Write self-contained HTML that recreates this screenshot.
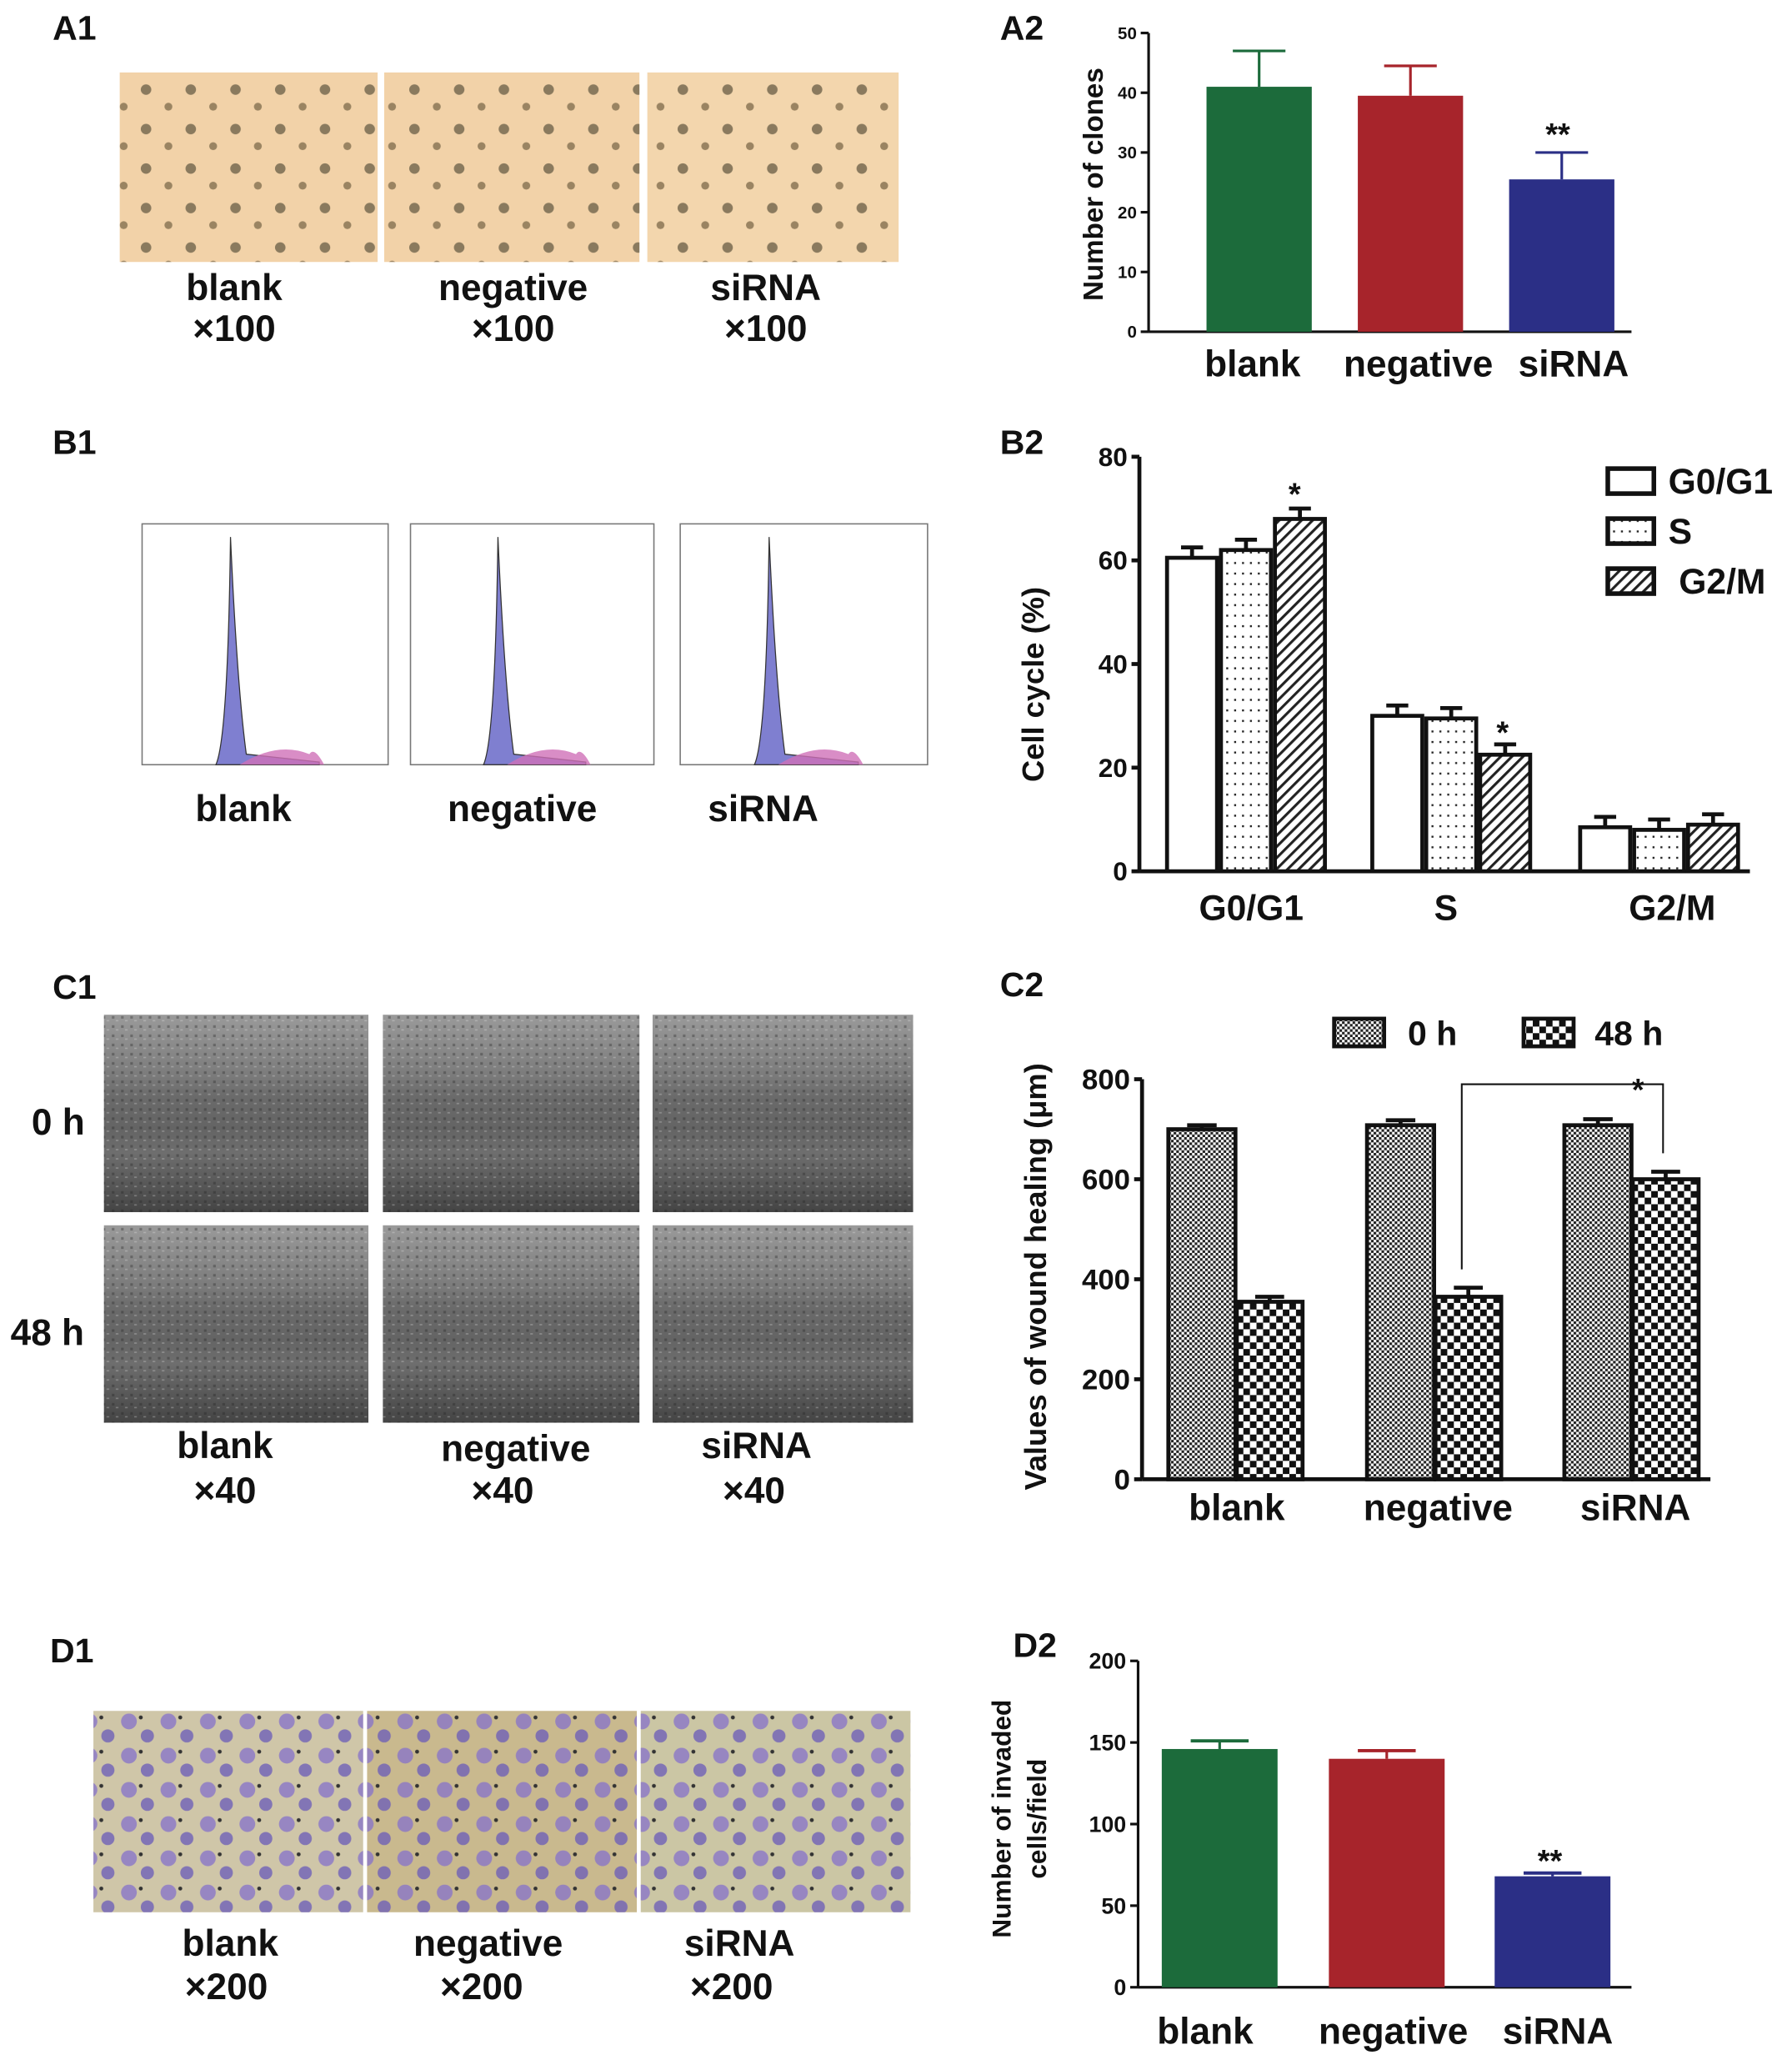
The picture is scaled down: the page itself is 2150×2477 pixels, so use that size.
<!DOCTYPE html>
<html><head><meta charset="utf-8"><style>
html,body{margin:0;padding:0;background:#fff}
svg{display:block}
text{font-family:"Liberation Sans",sans-serif;font-weight:bold;fill:#111}
</style></head><body>
<svg id="fig" xmlns="http://www.w3.org/2000/svg" width="2150" height="2477" viewBox="0 0 1362 1569">
<defs>
<pattern id="dots" width="6" height="8" patternUnits="userSpaceOnUse"><rect width="6" height="8" fill="#fff"/><rect x="2" y="3" width="1.5" height="1.5" fill="#222"/></pattern>
<pattern id="hatch" width="6" height="6" patternUnits="userSpaceOnUse" patternTransform="rotate(45)"><rect width="6" height="6" fill="#fff"/><rect width="2" height="6" fill="#222"/></pattern>
<pattern id="fine" width="4" height="4" patternUnits="userSpaceOnUse"><rect width="4" height="4" fill="#fff"/><rect width="2" height="2" fill="#222"/><rect x="2" y="2" width="2" height="2" fill="#222"/></pattern>
<pattern id="check" width="10" height="10" patternUnits="userSpaceOnUse"><rect width="10" height="10" fill="#fff"/><rect width="5" height="5" fill="#111"/><rect x="5" y="5" width="5" height="5" fill="#111"/></pattern>
<linearGradient id="gray" x1="0" y1="0" x2="0" y2="1"><stop offset="0" stop-color="#9a9a9a"/><stop offset="0.3" stop-color="#7c7c7c"/><stop offset="0.42" stop-color="#6a6a6a"/><stop offset="0.58" stop-color="#646464"/><stop offset="0.7" stop-color="#6e6e6e"/><stop offset="1" stop-color="#444"/></linearGradient>
<pattern id="noise" width="7" height="7" patternUnits="userSpaceOnUse"><rect x="1" y="2" width="2" height="2" fill="#222" opacity="0.35"/><rect x="4" y="5" width="2" height="1" fill="#eee" opacity="0.3"/></pattern>
<pattern id="cells" width="34" height="30" patternUnits="userSpaceOnUse"><circle cx="9" cy="8" r="4" fill="#8a7a5e"/><circle cx="26" cy="21" r="3" fill="#9a8462"/></pattern>
<pattern id="purple" width="30" height="26" patternUnits="userSpaceOnUse"><circle cx="8" cy="8" r="6" fill="#8a76c8" opacity="0.8"/><circle cx="22" cy="19" r="5" fill="#6f60b8" opacity="0.8"/><circle cx="17" cy="5" r="1.5" fill="#333"/></pattern>
</defs>

<text x="40" y="30" font-size="26">A1</text>
<text x="760" y="30" font-size="26">A2</text>
<text x="40" y="345" font-size="26">B1</text>
<text x="760" y="345" font-size="26">B2</text>
<text x="40" y="759" font-size="26">C1</text>
<text x="760" y="757" font-size="26">C2</text>
<text x="38" y="1263" font-size="26">D1</text>
<text x="770" y="1259" font-size="26">D2</text>

<g>
<rect x="91" y="55" width="196" height="144" fill="#f2d2a8"/><rect x="91" y="55" width="196" height="144" fill="url(#cells)"/>
<rect x="292" y="55" width="194" height="144" fill="#f2d2a8"/><rect x="292" y="55" width="194" height="144" fill="url(#cells)"/>
<rect x="492" y="55" width="191" height="144" fill="#f3d6ad"/><rect x="492" y="55" width="191" height="144" fill="url(#cells)"/>
</g>
<g font-size="28" text-anchor="middle">
<text x="178" y="228">blank</text><text x="178" y="259">×100</text>
<text x="390" y="228">negative</text><text x="390" y="259">×100</text>
<text x="582" y="228">siRNA</text><text x="582" y="259">×100</text>
</g>

<g id="b1"></g>
<g font-size="28" text-anchor="middle">
<text x="185" y="624">blank</text><text x="397" y="624">negative</text><text x="580" y="624">siRNA</text>
</g>

<g>
<rect x="79" y="771" width="201" height="150" fill="url(#gray)"/><rect x="79" y="771" width="201" height="150" fill="url(#noise)"/>
<rect x="291" y="771" width="195" height="150" fill="url(#gray)"/><rect x="291" y="771" width="195" height="150" fill="url(#noise)"/>
<rect x="496" y="771" width="198" height="150" fill="url(#gray)"/><rect x="496" y="771" width="198" height="150" fill="url(#noise)"/>
<rect x="79" y="931" width="201" height="150" fill="url(#gray)"/><rect x="79" y="931" width="201" height="150" fill="url(#noise)"/>
<rect x="291" y="931" width="195" height="150" fill="url(#gray)"/><rect x="291" y="931" width="195" height="150" fill="url(#noise)"/>
<rect x="496" y="931" width="198" height="150" fill="url(#gray)"/><rect x="496" y="931" width="198" height="150" fill="url(#noise)"/>
</g>
<g font-size="28">
<text x="24" y="862">0 h</text><text x="8" y="1022">48 h</text>
<g text-anchor="middle"><text x="171" y="1108">blank</text><text x="171" y="1142">×40</text>
<text x="392" y="1110">negative</text><text x="382" y="1142">×40</text>
<text x="575" y="1108">siRNA</text><text x="573" y="1142">×40</text></g>
</g>

<g>
<rect x="71" y="1300" width="205" height="153" fill="#cfc6a8"/><rect x="71" y="1300" width="205" height="153" fill="url(#purple)"/>
<rect x="279" y="1300" width="205" height="153" fill="#c9b98e"/><rect x="279" y="1300" width="205" height="153" fill="url(#purple)"/>
<rect x="487" y="1300" width="205" height="153" fill="#cbc6a4"/><rect x="487" y="1300" width="205" height="153" fill="url(#purple)"/>
</g>
<g font-size="28" text-anchor="middle">
<text x="175" y="1486">blank</text><text x="172" y="1519">×200</text>
<text x="371" y="1486">negative</text><text x="366" y="1519">×200</text>
<text x="562" y="1486">siRNA</text><text x="556" y="1519">×200</text>
</g>

<g id="charts"></g>
</svg>
<script>
const a2Categories = ['blank','negative','siRNA'];
const a2Values = [41, 39.5, 25.5];
const a2Errors = [6, 5, 4.5];
const a2Ticks = [0,10,20,30,40,50];

const b2Groups = ['G0/G1','S','G2/M'];
const b2Series = ['G0/G1','S','G2/M'];
const b2G0G1 = [60.5, 30, 8.5];
const b2S = [62, 29.5, 8];
const b2G2M = [68, 22.5, 9];
const b2Errors = [2, 2, 2];
const b2Ticks = [0,20,40,60,80];

const c2Categories = ['blank','negative','siRNA'];
const c2Zero = [700, 708, 708];
const c2FortyEight = [355, 365, 600];
const c2ErrZero = [8, 10, 12];
const c2ErrFortyEight = [10, 18, 15];
const c2Ticks = [0,200,400,600,800];

const d2Categories = ['blank','negative','siRNA'];
const d2Values = [146, 140, 68];
const d2Errors = [5, 5, 2];
const d2Ticks = [0,50,100,150,200];

const NS='http://www.w3.org/2000/svg';
const root=document.getElementById('charts');
function mk(tag,attrs,parent){const e=document.createElementNS(NS,tag);for(const k in attrs)e.setAttribute(k,attrs[k]);(parent||root).appendChild(e);return e;}
function txt(x,y,s,size,anchor,parent,rot){const t=mk('text',{x:x,y:y,'font-size':size,'text-anchor':anchor||'middle'},parent);if(rot)t.setAttribute('transform','rotate(-90 '+x+' '+y+')');t.textContent=s;return t;}
function yScale(y0,y1,max){return v=>y0-(v/max)*(y0-y1);}

function axis(g,x,yb,yt,xEnd,ticks,max,fs,sw){
  const ys=yScale(yb,yt,max);
  mk('line',{x1:x,y1:yt,x2:x,y2:yb,stroke:'#111','stroke-width':sw},g);
  mk('line',{x1:x,y1:yb,x2:xEnd,y2:yb,stroke:'#111','stroke-width':sw},g);
  ticks.forEach(t=>{const y=ys(t);mk('line',{x1:x-6,y1:y,x2:x,y2:y,stroke:'#111','stroke-width':sw},g);
    const tl=txt(x-9,y+fs*0.35,String(t),fs,'end',g);
    
    });
  return ys;
}
function bar(g,x,w,v,e,ys,fill,stroke,sw,name){
  const yb=ys(0),yt=ys(v),ye=ys(v+e);
  mk('line',{x1:x+w/2,y1:yt,x2:x+w/2,y2:ye,stroke:stroke,'stroke-width':sw},g);
  mk('line',{x1:x+w/2-w*0.22,y1:ye,x2:x+w/2+w*0.22,y2:ye,stroke:stroke,'stroke-width':sw},g);
  const r=mk('rect',{x:x,y:yt,width:w,height:yb-yt,fill:fill,stroke:stroke,'stroke-width':sw},g);
  
  
  return r;
}

(function(){
  const g=mk('g',{});
  
  
  const ys=axis(g,873,252,25,1240,a2Ticks,50,13,2);
  const xs=[917,1032,1147], cols=['#1c6b3b','#a7242b','#2b2f86'];
  a2Values.forEach((v,i)=>{mk('line',{x1:xs[i]+40,y1:ys(v),x2:xs[i]+40,y2:ys(v+a2Errors[i]),stroke:cols[i],'stroke-width':2},g);
    mk('line',{x1:xs[i]+20,y1:ys(v+a2Errors[i]),x2:xs[i]+60,y2:ys(v+a2Errors[i]),stroke:cols[i],'stroke-width':2},g);
    const r=mk('rect',{x:xs[i],y:ys(v),width:80,height:ys(0)-ys(v),fill:cols[i]},g);
    
    
    const l=txt([952,1078,1196][i],286,a2Categories[i],28,'middle',g);
    
    });
  txt(1184,110,'**',24,'middle',g);
  const yl=txt(845,140,'Number of clones',21,'middle',g,true);
  
  
  yl.setAttribute('x','838');
  yl.setAttribute('transform','rotate(-90 838 140)');
})();

(function(){
  const g=mk('g',{});
  
  
  const ys=axis(g,866,662,347,1330,b2Ticks,80,20,3);
  const starts=[887,1043,1201], fills=['#fff','url(#dots)','url(#hatch)'];
  const series=[b2G0G1,b2S,b2G2M];
  b2Groups.forEach((gname,i)=>{
    series.forEach((s,j)=>bar(g,starts[i]+j*41,38,s[i],b2Errors[j],ys,fills[j],'#111',3,'bar-'+gname+'-'+b2Series[j]));
    const l=txt([951,1099,1271][i],699,gname,27,'middle',g);
    
    
  });
  txt(984,ys(b2G2M[0]+b2Errors[0])-3,'*',24,'middle',g);
  txt(1142,ys(b2G2M[1]+b2Errors[1])-1,'*',24,'middle',g);
  b2Series.forEach((s,j)=>{const y=[356,394,432][j];
    const r=mk('rect',{x:1222,y:y,width:35,height:19,fill:fills[j],stroke:'#111','stroke-width':3.5},g);
    
    
    const t=txt([1268,1268,1276][j],y+19,s,27,'start',g);
    
    });
  const yl=txt(793,520,'Cell cycle (%)',23,'middle',g,true);
  
  
})();

(function(){
  const g=mk('g',{});
  
  
  const ys=axis(g,868,1124,820,1300,c2Ticks,800,22,3);
  const starts=[888,1039,1189];
  c2Categories.forEach((c,i)=>{
    bar(g,starts[i],51,c2Zero[i],c2ErrZero[i],ys,'url(#fine)','#111',3,'bar-'+c+'-0h');
    bar(g,starts[i]+52,50,c2FortyEight[i],c2ErrFortyEight[i],ys,'url(#check)','#111',3,'bar-'+c+'-48h');
    const l=txt([940,1093,1243][i],1155,c,28,'middle',g);
    
    
  });
  const bx1=starts[1]+52+20, bx2=1264, by=ys(790);
  mk('path',{d:'M'+bx1+' '+(ys(c2FortyEight[1]+c2ErrFortyEight[1])-14)+' V'+by+' H'+bx2+' V'+(ys(c2FortyEight[2]+c2ErrFortyEight[2])-14),fill:'none',stroke:'#111','stroke-width':1.3},g);
  txt(1245,836,'*',24,'middle',g);
  const lg=[['url(#fine)',1014,'0 h',1070],['url(#check)',1158,'48 h',1212]];
  lg.forEach(([f,x,s,tx])=>{const r=mk('rect',{x:x,y:774,width:38,height:21,fill:f,stroke:'#111','stroke-width':3},g);
    
    
    const t=txt(tx,794,s,26,'start',g);
    
    });
  const yl=txt(795,970,'Values of wound healing (μm)',23,'middle',g,true);
  
  
})();

(function(){
  const g=mk('g',{});
  
  
  const ys=axis(g,865,1510,1262,1240,d2Ticks,200,17,2);
  const xs=[883,1010,1136], cols=['#1c6b3b','#a7242b','#2b2f86'];
  d2Values.forEach((v,i)=>{
    mk('line',{x1:xs[i]+44,y1:ys(v),x2:xs[i]+44,y2:ys(v+d2Errors[i]),stroke:cols[i],'stroke-width':2},g);
    mk('line',{x1:xs[i]+22,y1:ys(v+d2Errors[i]),x2:xs[i]+66,y2:ys(v+d2Errors[i]),stroke:cols[i],'stroke-width':2.5},g);
    const r=mk('rect',{x:xs[i],y:ys(v),width:88,height:ys(0)-ys(v),fill:cols[i]},g);
    
    
    const l=txt([916,1059,1184][i],1553,d2Categories[i],28,'middle',g);
    
    
  });
  txt(1178,1422,'**',24,'middle',g);
  const y1=txt(768,1382,'Number of invaded',20,'middle',g,true);
  
  
  const y2=txt(795,1382,'cells/field',20,'middle',g,true);
  
  
})();

(function(){
  const g=document.getElementById('b1');
  const frames=[[108,295],[312,497],[517,705]];
  frames.forEach(([x0,x1])=>{
    const y0=398,y1=581,w=x1-x0;
    mk('rect',{x:x0,y:y0,width:w,height:y1-y0,fill:'#fff',stroke:'#777','stroke-width':1},g);
    const px=x0+w*0.37;
    mk('path',{d:'M'+(x0+w*0.3)+' '+y1+' Q'+(px-4)+' '+(y1-20)+' '+(px-2)+' '+(y0+10)+' Q'+(px+3)+' '+(y1-60)+' '+(px+10)+' '+(y1-8)+' L'+(x0+w*0.72)+' '+(y1-2)+' L'+(x0+w*0.72)+' '+y1+' Z',fill:'#7f7fd0',stroke:'#333','stroke-width':0.8},g);
    mk('path',{d:'M'+(px+5)+' '+y1+' Q'+(x0+w*0.55)+' '+(y1-18)+' '+(x0+w*0.68)+' '+(y1-8)+' Q'+(x0+w*0.7)+' '+(y1-14)+' '+(x0+w*0.74)+' '+y1+' Z',fill:'#d070b8',opacity:0.8},g);
  });
})();
</script>
</body></html>
